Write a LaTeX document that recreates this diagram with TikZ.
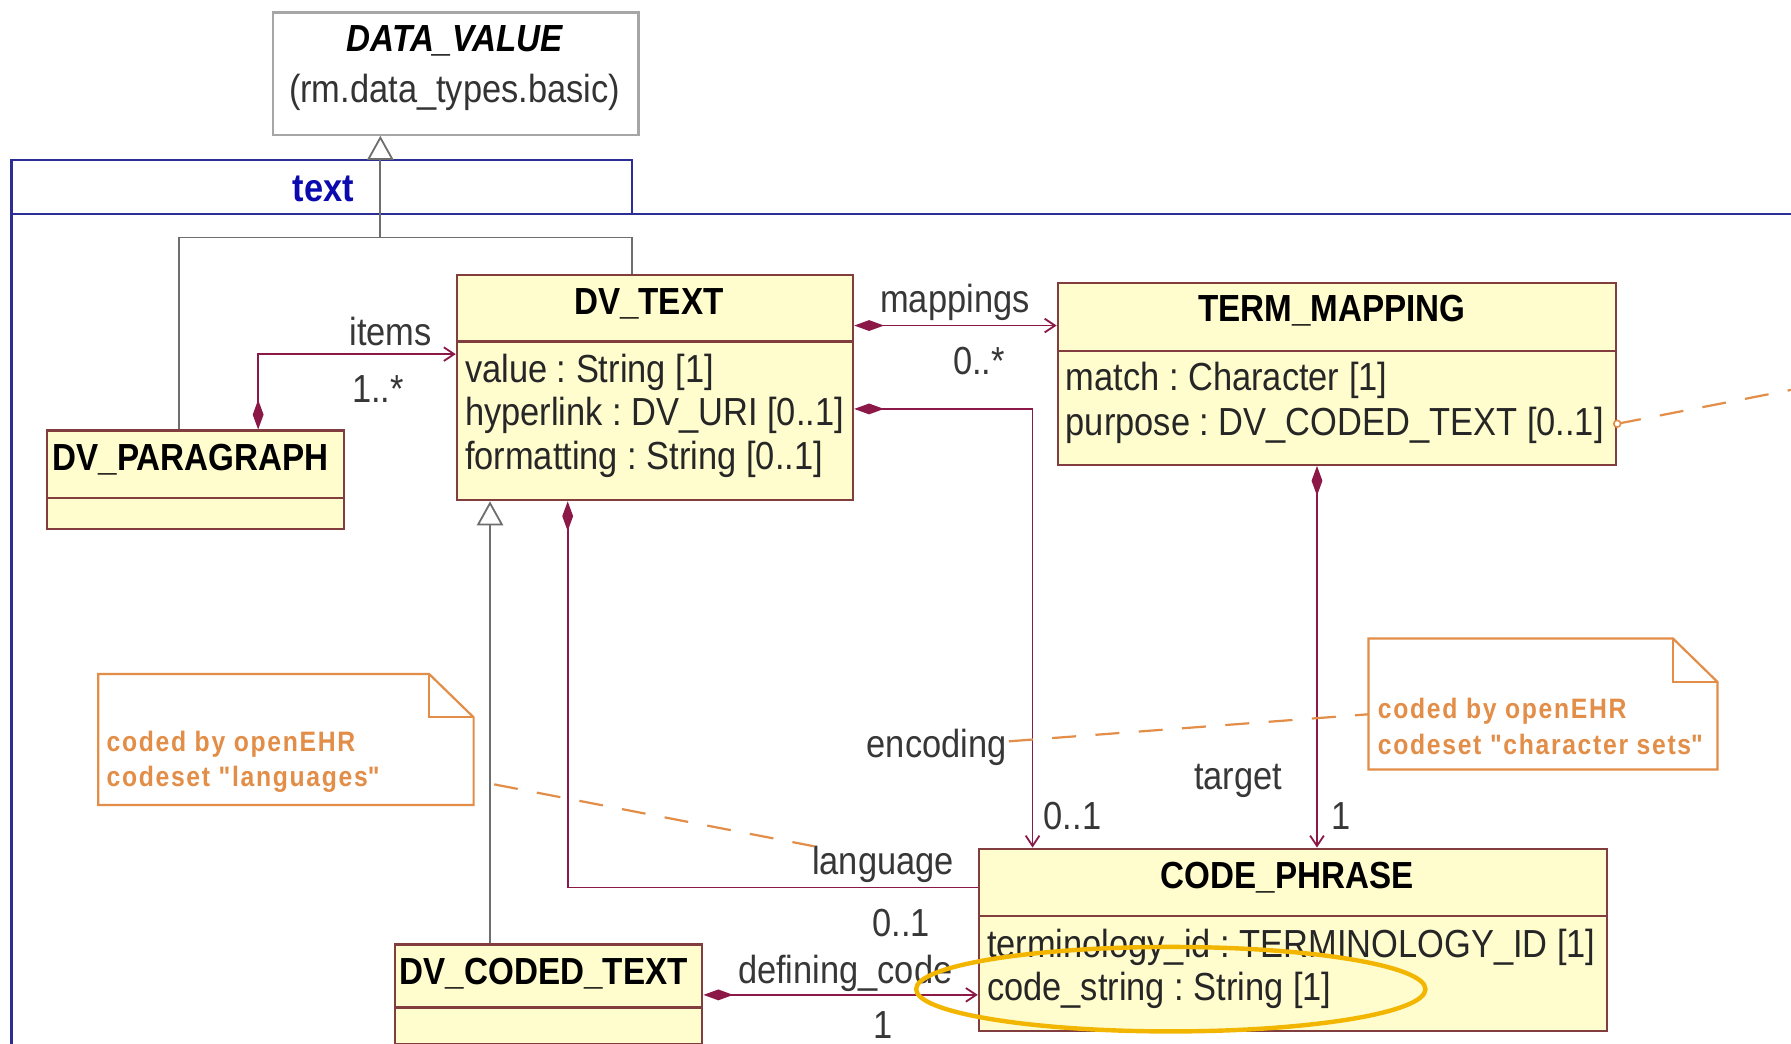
\documentclass[tikz,border=0pt]{standalone}
\usepackage{fontspec}
\setmainfont{Liberation Sans}[FakeStretch=0.88]
\usetikzlibrary{arrows.meta}

\definecolor{clsfill}{RGB}{255,252,206}
\definecolor{clsline}{RGB}{130,62,62}
\definecolor{assoccol}{RGB}{140,24,72}
\definecolor{gencol}{RGB}{110,110,110}
\definecolor{pkgcol}{RGB}{45,45,150}
\definecolor{pkgtext}{RGB}{10,10,175}
\definecolor{notecol}{RGB}{226,142,72}
\definecolor{markcol}{RGB}{243,182,0}
\definecolor{lblcol}{RGB}{55,55,55}

\newcommand\umlfont{\fontsize{19.5}{23}\selectfont}
\newcommand\ttlfont{\fontsize{18.8}{23}\selectfont\bfseries}
\newcommand\notefont{\fontsize{14}{17.6}\selectfont\bfseries\addfontfeatures{LetterSpace=6}}
\frenchspacing

\begin{document}
\begin{tikzpicture}[x={(0.02cm,0)}, y={(0,-0.02cm)},
    cls/.style={draw=clsline, fill=clsfill, line width=1.1pt, anchor=north west, inner sep=0pt},
    abscls/.style={draw=gray!70, fill=white, line width=1.1pt, anchor=north west, inner sep=0pt},
    ttl/.style={font=\ttlfont, inner sep=1pt},
    attr/.style={font=\umlfont, anchor=west, inner sep=1pt, text=black!85},
    lbl/.style={font=\umlfont, text=lblcol, inner sep=1pt},
    sep/.style={draw=clsline, line width=1.1pt},
    assoc/.style={draw=assoccol, line width=0.9pt},
    owns/.style={assoc, {Diamond[length=0.52cm, width=0.19cm]}-{Straight Barb[length=0.18cm, width=0.24cm]}},
    gen/.style={draw=gencol, line width=0.9pt},
    genarrow/.style={-{Triangle[open, length=0.42cm, width=0.46cm, fill=white]}},
    pkg/.style={draw=pkgcol, line width=1.1pt},
    note/.style={draw=notecol, line width=1.1pt},
    notebox/.style={anchor=north west, inner sep=0pt},
    notetxt/.style={font=\notefont, text=notecol, anchor=west, align=left, inner sep=0pt},
    link/.style={draw=notecol, line width=1.1pt, dash pattern=on 0.42cm off 0.34cm}]

    % Фон и размеры
    \fill[white] (0,0) rectangle (1568,914);
    \useasboundingbox (0,0) rectangle (1568,914);

    % Пакет text
    \draw[pkg] (10,930) -- (10,140) -- (553,140) -- (553,187);
    \draw[pkg] (10,187) -- (1580,187);
    \node[font=\umlfont\bfseries, text=pkgtext] (pkgname) at (283,165) {text};

    % Классы
    \node[abscls, minimum width=6.4cm, minimum height=2.14cm] (dataval) at (238,10) {};
    \node[ttl, font=\ttlfont\itshape] (datavalT) at (398,36) {DATA\_VALUE};
    \node[lbl, text=black!80] (datavalP) at (398,81) {(rm.data\_types.basic)};

    \node[cls, minimum width=6.94cm, minimum height=3.94cm] (dvtext) at (399,240) {};
    \draw[sep] (dvtext.west |- 0,299) -- (dvtext.east |- 0,299);
    \node[ttl] (dvtextT) at (568,266) {DV\_TEXT};
    \node[attr] (dvtextA) at (405,326) {value : String [1]};
    \node[attr] (dvtextB) at (405,364) {hyperlink : DV\_URI [0..1]};
    \node[attr] (dvtextC) at (405,402) {formatting : String [0..1]};

    \node[cls, minimum width=9.78cm, minimum height=3.18cm] (termmap) at (925,247) {};
    \draw[sep] (termmap.west |- 0,307) -- (termmap.east |- 0,307);
    \node[ttl] (termmapT) at (1166,272) {TERM\_MAPPING};
    \node[attr] (termmapA) at (931,333) {match : Character [1]};
    \node[attr] (termmapB) at (931,372) {purpose : DV\_CODED\_TEXT [0..1]};

    \node[cls, minimum width=5.2cm, minimum height=1.72cm] (para) at (40,376) {};
    \draw[sep] (para.west |- 0,436) -- (para.east |- 0,436);
    \node[ttl] (paraT) at (167,402) {DV\_PARAGRAPH};

    \node[cls, minimum width=5.38cm, minimum height=1.74cm] (coded) at (345,826) {};
    \draw[sep] (coded.west |- 0,882) -- (coded.east |- 0,882);
    \node[ttl] (codedT) at (476,852) {DV\_CODED\_TEXT};

    \node[cls, minimum width=11cm, minimum height=3.2cm] (codephr) at (856,742) {};
    \draw[sep] (codephr.west |- 0,802) -- (codephr.east |- 0,802);
    \node[ttl] (codephrT) at (1127,768) {CODE\_PHRASE};
    \node[attr] (codephrA) at (862,829) {terminology\_id : TERMINOLOGY\_ID [1]};
    \node[attr] (codephrB) at (862,867) {code\_string : String [1]};

    % Наследование
    \coordinate (genjoin) at (333,208);
    \draw[gen] (para.north -| 157,0) |- (genjoin) -| (dvtext.north -| 553,0);
    \draw[gen, genarrow] (genjoin) -- (dataval.south -| genjoin);
    \draw[gen, genarrow] (coded.north -| 429,0) -- (dvtext.south -| 429,0);

    % Ассоциации
    \draw[owns] (para.north -| 226,0) |- (dvtext.west |- 0,310);
    \node[lbl] (itemsL) at (342,290) {items};
    \node[lbl] (itemsM) at (331,341) {1..*};

    \draw[owns] (dvtext.east |- 0,285) -- (termmap.west |- 0,285);
    \node[lbl] (mapL) at (836,265) {mappings};
    \node[lbl] (mapM) at (857,316) {0..*};

    \draw[owns] (dvtext.east |- 0,358) -| (codephr.north -| 904,0);
    \node[lbl] (encL) at (820,654) {encoding};
    \node[lbl] (encM) at (939,714) {0..1};

    \draw[owns] (termmap.south -| 1153,0) -- (codephr.north -| 1153,0);
    \node[lbl] (targL) at (1084,684) {target};
    \node[lbl] (targM) at (1174,714) {1};

    \draw[assoc, {Diamond[length=0.52cm, width=0.19cm]}-] (dvtext.south -| 497,0) |- (codephr.west |- 0,777);
    \node[lbl] (langL) at (773,757) {language};
    \node[lbl] (langM) at (789,808) {0..1};

    \draw[owns] (coded.east |- 0,871) -- (codephr.west |- 0,871);
    \node[lbl] (defL) at (740,852) {defining\_code};
    \node[lbl] (defM) at (773,897) {1};

    % Примечания
    \node[notebox, minimum width=6.56cm, minimum height=2.28cm] (langnote) at (86,590) {};
    \draw[note, fill=white] (langnote.south west) |- ([xshift=-0.78cm]langnote.north east)
        -- ([yshift=-0.76cm]langnote.north east) -- (langnote.south east) -- cycle;
    \draw[note] ([xshift=-0.78cm]langnote.north east) |- ([yshift=-0.76cm]langnote.north east);
    \node[notetxt] (langtxt) at (93,667) {coded by openEHR\\codeset \textquotedbl languages\textquotedbl};

    \node[notebox, minimum width=6.1cm, minimum height=2.28cm] (csnote) at (1198,559) {};
    \draw[note, fill=white] (csnote.south west) |- ([xshift=-0.78cm]csnote.north east)
        -- ([yshift=-0.76cm]csnote.north east) -- (csnote.south east) -- cycle;
    \draw[note] ([xshift=-0.78cm]csnote.north east) |- ([yshift=-0.76cm]csnote.north east);
    \node[notetxt] (cstxt) at (1206,636) {coded by openEHR\\codeset \textquotedbl character sets\textquotedbl};

    % Пунктирные связи
    \coordinate (offright) at (1580,339);
    \draw[link] ([shift={(18,-18)}]langnote.south east) -- ([shift={(4,2)}]langL.north west);
    \draw[link] ([yshift=0.1cm]encL.east) -- ([yshift=-0.18cm]csnote.west);
    \draw[link] (termmap.east |- 0,371) -- (offright);
    \draw[notecol, line width=0.8pt, fill=white] (termmap.east |- 0,371) circle (0.06cm);

    % Выделение
    \draw[markcol, line width=2.2pt] (1025,866) ellipse [x radius=4.46cm, y radius=0.74cm];
\end{tikzpicture}
\end{document}
